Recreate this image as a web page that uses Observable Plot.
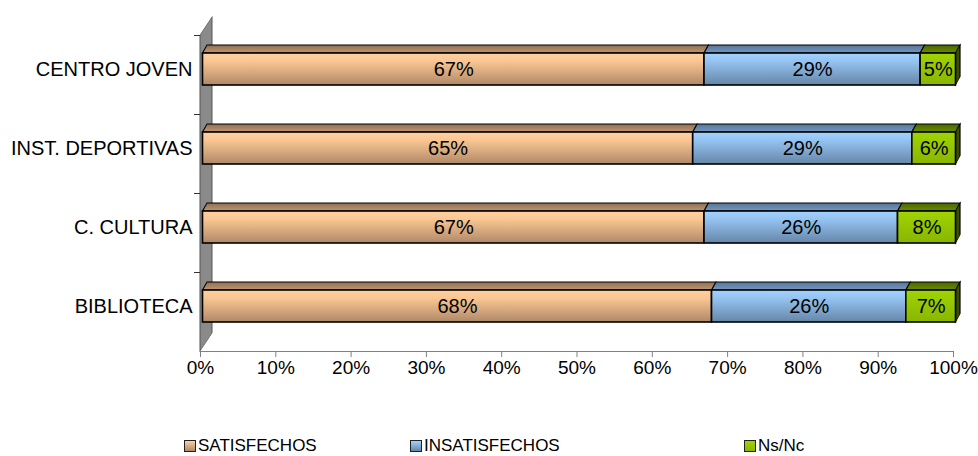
<!DOCTYPE html>
<html><head><meta charset="utf-8">
<script src="https://cdn.jsdelivr.net/npm/d3@7"></script>
<script src="https://cdn.jsdelivr.net/npm/@observablehq/plot@0.6"></script>
<style>
body{margin:0;background:#fff;font-family:"Liberation Sans",Arial,sans-serif;}
#legend{position:relative;height:24px;width:978px;font-size:17px;color:#000;}
.li{position:absolute;top:0;height:24px;line-height:24px;display:flex;align-items:center;white-space:nowrap}
.sw{width:10px;height:10px;border:1px solid #222;margin-right:2px;}
</style></head><body><div id="chart"></div><div id="legend"></div>
<script>
const categories = ["CENTRO JOVEN", "INST. DEPORTIVAS", "C. CULTURA", "BIBLIOTECA"];
const seriesNames = ["SATISFECHOS", "INSATISFECHOS", "Ns/Nc"];
const satisfechos = [66.6, 65.1, 66.6, 67.6];
const insatisfechos = [28.7, 29.1, 25.7, 25.8];
const nsnc = [4.7, 5.8, 7.7, 6.6];
const xTicks = [0, 10, 20, 30, 40, 50, 60, 70, 80, 90, 100];

const seriesValues = [satisfechos, insatisfechos, nsnc];
const keys = ["sat", "ins", "ns"];
const rows = [];
categories.forEach((c, i) => seriesValues.forEach((vals, s) =>
  rows.push({cat: c, serie: seriesNames[s], key: keys[s], value: vals[i]})));
const totals = categories.map((c, i) => ({cat: c, total: seriesValues.reduce((a, v) => a + v[i], 0)}));

const font = '"Liberation Sans", Arial, sans-serif';
const svg = Plot.plot({
  width: 978, height: 434,
  marginTop: 35, marginBottom: 83, marginLeft: 200, marginRight: 25,
  x: {domain: [0, 100], axis: null},
  y: {domain: categories, axis: null, padding: 0},
  color: {type: "identity"},
  style: {fontFamily: font, fontSize: "19px", color: "#000", background: "#fff", overflow: "visible"},
  marks: [
    Plot.barX([0], {x1: d => 0, x2: d => 0, insetRight: -12, fill: "#8a8a8a", stroke: "#555", strokeWidth: 1, ariaLabel: () => "wall"}),
    Plot.ruleY(categories, {y: d => d, x1: d => 0, x2: d => 0, insetLeft: -6, dy: -39.5, stroke: "#333"}),
    Plot.ruleY([categories[categories.length - 1]], {y: d => d, dy: 39.5, stroke: "#808080"}),
    Plot.ruleX(xTicks, {x: d => d, insetTop: 316, insetBottom: -6, stroke: "#808080"}),
    Plot.text(xTicks, {x: d => d, frameAnchor: "bottom", dy: 22.5, text: d => d + "%", fontSize: 19, fontFamily: font, fill: "#000"}),
    Plot.text(categories, {y: d => d, frameAnchor: "left", textAnchor: "end", dx: -8, dy: -5.5, text: d => d, fontSize: 20, fontFamily: font, fill: "#000"}),
    Plot.barX(rows, Plot.stackX({x: "value", y: "cat", fill: d => `url(#top-${d.key})`, stroke: "#000", strokeWidth: 1.2, insetTop: 10, insetBottom: 61, dx: 2.5, ariaLabel: () => "top"})),
    Plot.barX(totals, {x1: "total", x2: "total", y: "cat", insetTop: 18, insetBottom: 29, insetRight: -4.5, fill: "#3b5000", stroke: "#000", strokeWidth: 1.2, dx: 2.5, ariaLabel: () => "side"}),
    Plot.barX(rows, Plot.stackX({x: "value", y: "cat", fill: d => `url(#front-${d.key})`, stroke: "#000", strokeWidth: 1.6, insetTop: 18, insetBottom: 29, dx: 2.5})),
    Plot.text(rows, Plot.stackX({x: "value", y: "cat", text: d => Math.round(d.value) + "%", dx: 2.5, dy: -5.5, fill: "#000", fontSize: 20, fontFamily: font}))
  ]
});

const grads = {
  "front-sat": [[0, "#ffd0a0"], [0.25, "#fac793"], [1, "#b08868"]],
  "front-ins": [[0, "#a2d2ff"], [0.25, "#95c4f2"], [1, "#6586a8"]],
  "front-ns": [[0, "#a0d400"], [1, "#88b600"]],
  "top-sat": [[0, "#8f6e52"], [1, "#bf9874"]],
  "top-ins": [[0, "#55759a"], [1, "#7698bd"]],
  "top-ns": [[0, "#4a6600"], [1, "#6a8c00"]]
};
const defs = d3.select(svg).insert("defs", ":first-child");
for (const [id, stops] of Object.entries(grads)) {
  const g = defs.append("linearGradient").attr("id", id).attr("x1", 0).attr("y1", 0).attr("x2", 0).attr("y2", 1);
  stops.forEach(([o, c]) => g.append("stop").attr("offset", o).attr("stop-color", c));
}
const sel = d3.select(svg);
sel.selectAll('rect[aria-label="wall"]').attr("transform", function () {
  const x = +this.getAttribute("x");
  return `translate(${x},0) skewY(-56.31) translate(${-x},0)`;
});
sel.selectAll('rect[aria-label="top"]').attr("transform", function () {
  const x = +this.getAttribute("x"), y = +this.getAttribute("y"), h = +this.getAttribute("height");
  return `translate(${x},${y + h}) skewX(-29.36) translate(${-x},${-(y + h)})`;
});
sel.selectAll('rect[aria-label="side"]').attr("transform", function () {
  const x = +this.getAttribute("x");
  return `translate(${x},0) skewY(-60.64) translate(${-x},0)`;
});
document.getElementById("chart").appendChild(svg);

const legendColors = {
  sat: "linear-gradient(#ffd0a0, #b08868)",
  ins: "linear-gradient(#a2d2ff, #6586a8)",
  ns: "linear-gradient(#a0d400, #88b600)"
};
const legendLeft = [184, 410, 744];
const legend = document.getElementById("legend");
seriesNames.forEach((n, i) => {
  const d = document.createElement("div");
  d.className = "li";
  d.style.left = legendLeft[i] + "px";
  d.innerHTML = `<span class="sw" style="background:${legendColors[keys[i]]}"></span><span>${n}</span>`;
  legend.appendChild(d);
});
</script></body></html>
